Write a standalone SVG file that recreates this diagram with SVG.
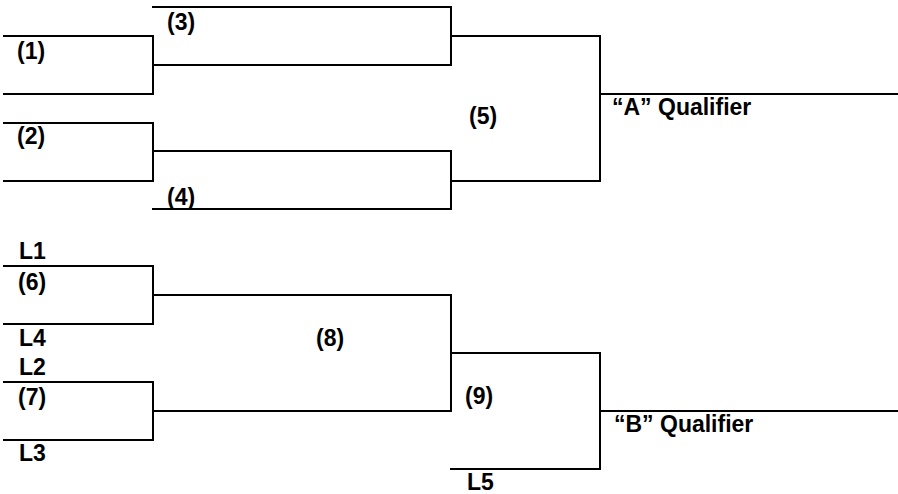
<svg xmlns="http://www.w3.org/2000/svg" width="898" height="494" viewBox="0 0 898 494">
<style>
.ln{fill:none;stroke:#000;stroke-width:2;stroke-linecap:square}
.t{font-family:"Liberation Sans",Arial,sans-serif;font-weight:bold;font-size:23px;fill:#000}
</style>
<rect width="898" height="494" fill="#fff"/>
<g id="connectors">
<path class="ln" d="M4,36H153V94H4"/>
<path class="ln" d="M4,123H153V181H4"/>
<path class="ln" d="M153,7H451V65H153"/>
<path class="ln" d="M153,151H451V209H153"/>
<path class="ln" d="M451,36H600V181H451"/>
<path class="ln" d="M600,94H897"/>
<path class="ln" d="M4,266H153V324H4"/>
<path class="ln" d="M4,382H153V440H4"/>
<path class="ln" d="M153,295H451V411H153"/>
<path class="ln" d="M451,353H600V469H451"/>
<path class="ln" d="M600,411H897"/>
</g>
<g id="n1"><text class="t" x="17" y="59">(1)</text></g>
<g id="n2"><text class="t" x="17" y="144">(2)</text></g>
<g id="n3"><text class="t" x="167" y="30">(3)</text></g>
<g id="n4"><text class="t" x="167" y="205">(4)</text></g>
<g id="n5"><text class="t" x="469" y="124">(5)</text></g>
<g id="qa"><text class="t" x="612" y="115">“A” Qualifier</text></g>
<g id="l1"><text class="t" x="19" y="259">L1</text></g>
<g id="n6"><text class="t" x="18" y="290">(6)</text></g>
<g id="l4"><text class="t" x="19" y="346">L4</text></g>
<g id="l2"><text class="t" x="19" y="375">L2</text></g>
<g id="n7"><text class="t" x="18" y="405">(7)</text></g>
<g id="l3"><text class="t" x="19" y="461">L3</text></g>
<g id="n8"><text class="t" x="316" y="346">(8)</text></g>
<g id="n9"><text class="t" x="465" y="404">(9)</text></g>
<g id="qb"><text class="t" x="614" y="432">“B” Qualifier</text></g>
<g id="l5"><text class="t" x="467" y="490">L5</text></g>
</svg>
